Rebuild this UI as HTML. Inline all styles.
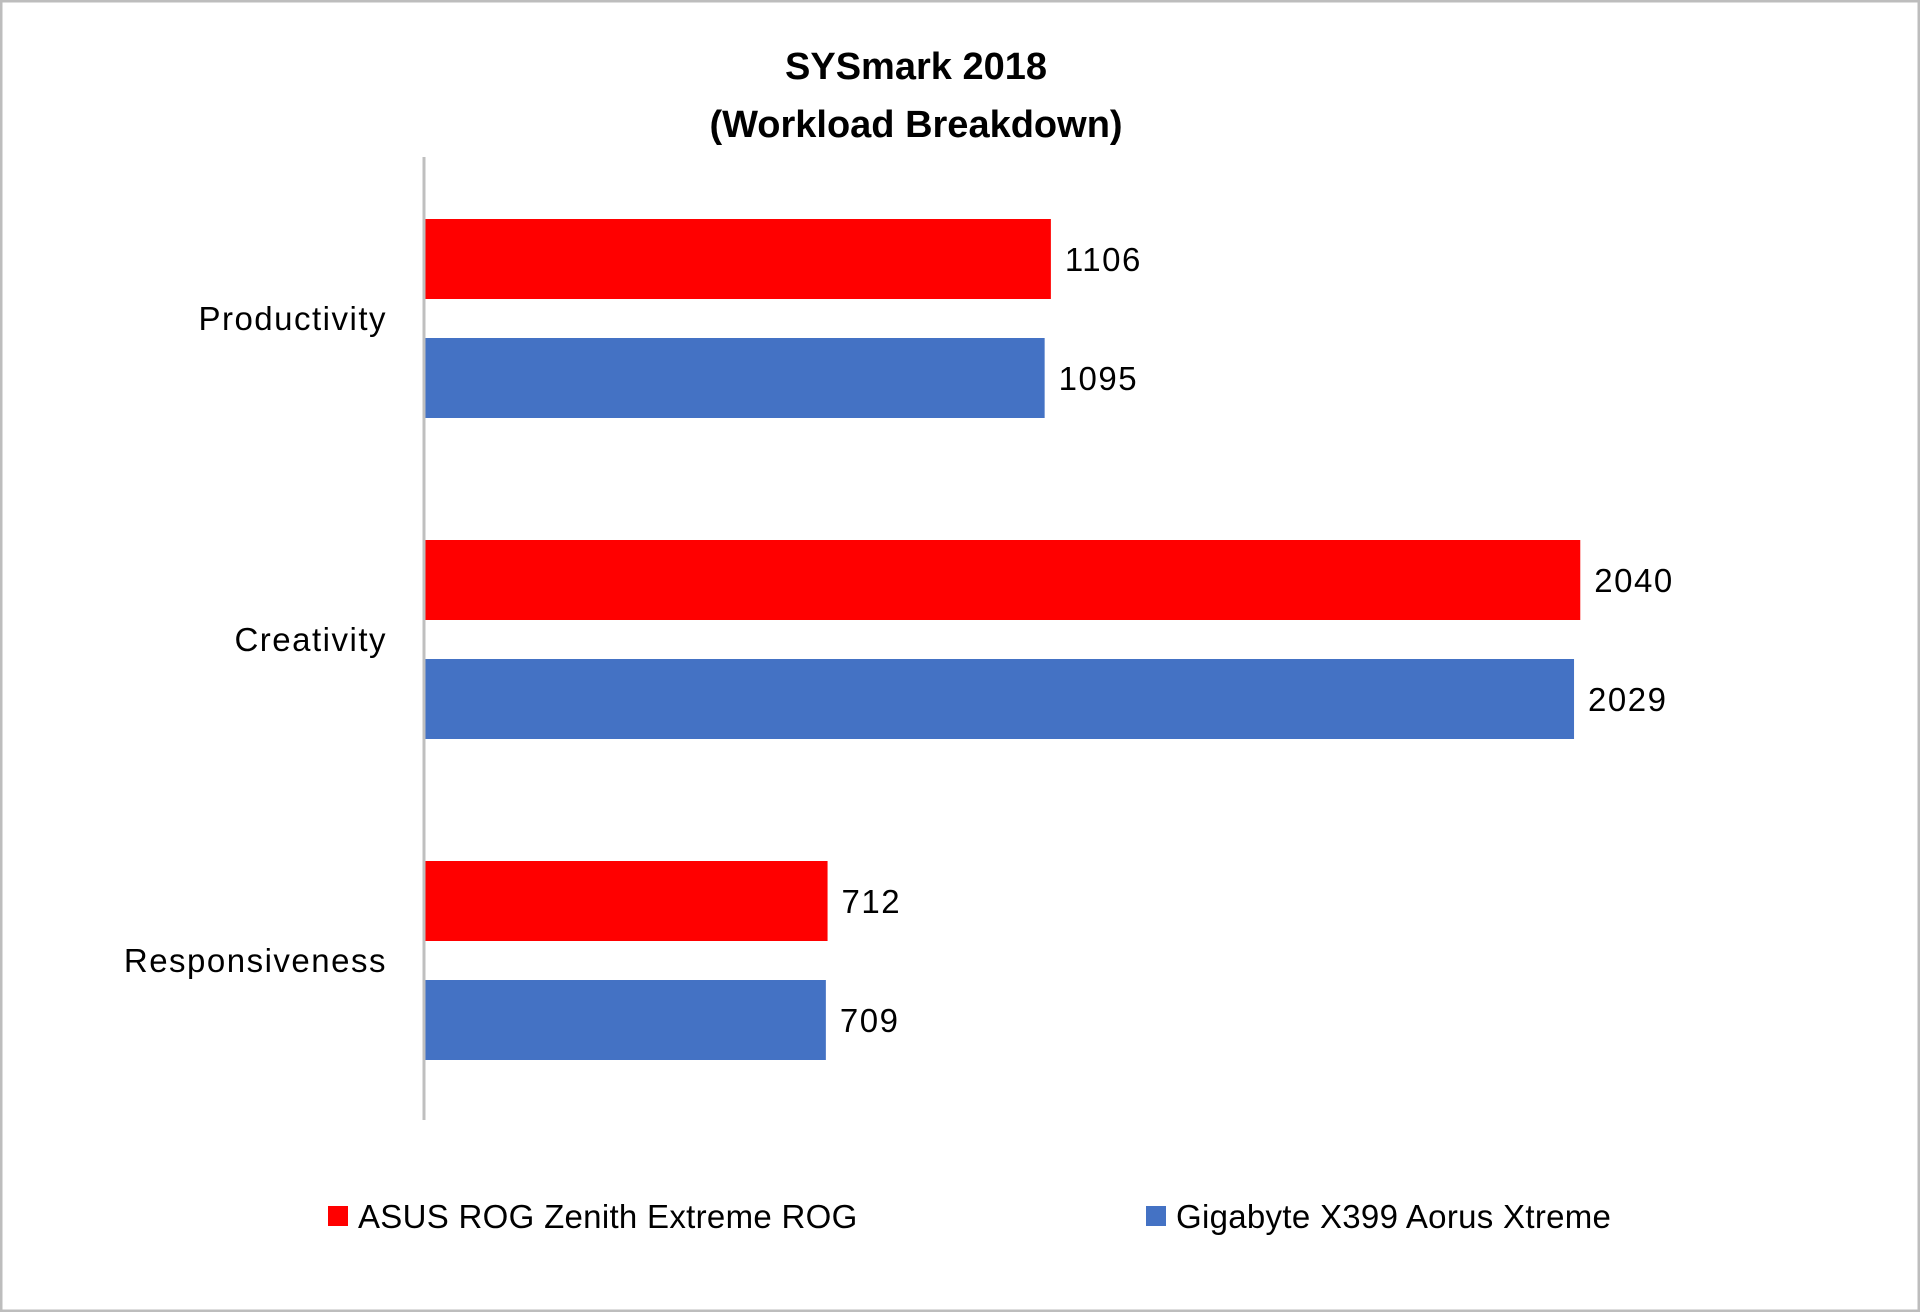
<!DOCTYPE html>
<html><head><meta charset="utf-8"><style>
html,body{margin:0;padding:0;background:#fff}
svg{display:block}
text{font-family:"Liberation Sans",sans-serif;fill:#000}
</style></head><body>
<svg width="1920" height="1312" viewBox="0 0 1920 1312">
<rect x="1" y="1" width="1918" height="1310" fill="#fff" stroke="#bdbdbd" stroke-width="3"/>
<text x="916" y="79" font-size="38" font-weight="bold" text-anchor="middle">SYSmark 2018</text>
<text x="916" y="137" font-size="38" font-weight="bold" text-anchor="middle">(Workload Breakdown)</text>
<g id="plot"></g>
<line x1="424" y1="157" x2="424" y2="1120" stroke="#bfbfbf" stroke-width="3"/>
<g>
<rect x="328" y="1206" width="20" height="20" fill="#ff0000"/>
<text x="358" y="1228" font-size="33" letter-spacing="0.3">ASUS ROG Zenith Extreme ROG</text>
<rect x="1146" y="1206" width="20" height="20" fill="#4472c4"/>
<text x="1176" y="1228" font-size="33" letter-spacing="0.3">Gigabyte X399 Aorus Xtreme</text>
</g>
</svg>
<script>
const categories = ["Productivity","Creativity","Responsiveness"];
const asusValues = [1106,2040,712];
const gigabyteValues = [1095,2029,709];
const seriesColors = ["#ff0000","#4472c4"];
const ns="http://www.w3.org/2000/svg";
const x0=424, pxPerUnit=0.5668, catTop=219, catStep=321, barH=80, barGap=119;
const xScale=v=>v*pxPerUnit;
const g=document.getElementById('plot');
const series=[asusValues,gigabyteValues];
categories.forEach((c,i)=>{
  const top=catTop+i*catStep;
  const t=document.createElementNS(ns,'text');
  t.setAttribute('x',387);t.setAttribute('y',top+barH+19+12);
  t.setAttribute('font-size','33');t.setAttribute('text-anchor','end');
  t.setAttribute('letter-spacing','1.5');
  
  
  t.textContent=c;g.appendChild(t);
  series.forEach((s,j)=>{
    const y=top+j*barGap, w=xScale(s[i]);
    const r=document.createElementNS(ns,'rect');
    r.setAttribute('x',x0);r.setAttribute('y',y);r.setAttribute('width',w);r.setAttribute('height',barH);
    r.setAttribute('fill',seriesColors[j]);
    
    
    g.appendChild(r);
    const l=document.createElementNS(ns,'text');
    l.setAttribute('x',x0+w+14);l.setAttribute('y',y+barH/2+12);l.setAttribute('font-size','33');
    l.setAttribute('letter-spacing','1.5');
    
    
    l.textContent=s[i];g.appendChild(l);
  });
});
</script>
</body></html>
